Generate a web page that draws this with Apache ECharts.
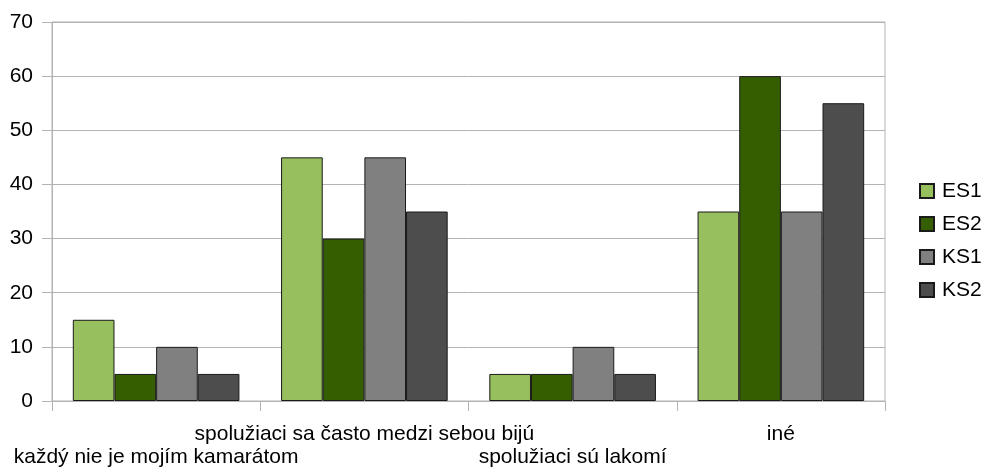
<!DOCTYPE html>
<html>
<head>
<meta charset="utf-8">
<script src="https://cdn.jsdelivr.net/npm/echarts@6/dist/echarts.min.js"></script>
<style>
  html, body { margin: 0; padding: 0; background: #fff; }
  #chart { width: 983px; height: 472px; }
</style>
</head>
<body>
<div id="chart"></div>
<script>
// Answer categories and responses per group
const categories = [
  'každý nie je mojím kamarátom',
  'spolužiaci sa často medzi sebou bijú',
  'spolužiaci sú lakomí',
  'iné'
];
const es1 = [15, 45, 5, 35];
const es2 = [5, 30, 5, 60];
const ks1 = [10, 45, 10, 35];
const ks2 = [5, 35, 5, 55];
const yTicks = [0, 10, 20, 30, 40, 50, 60, 70];

const FONT = '"Liberation Sans", Arial, sans-serif';
const GRID = '#b3b3b3';

function barSeries(name, data, color) {
  return {
    name: name,
    type: 'bar',
    data: data,
    barGap: '0%',
    barCategoryGap: '20%',
    itemStyle: { color: color, borderColor: '#1a1a1a', borderWidth: 1 }
  };
}

const chart = echarts.init(document.getElementById('chart'));
chart.setOption({
  animation: false,
  backgroundColor: '#fff',
  grid: {
    left: 52, right: 98, top: 22, bottom: 71,
    show: true, borderColor: GRID, borderWidth: 1
  },
  legend: {
    orient: 'vertical',
    left: 919,
    top: 178,
    padding: 0,
    itemWidth: 14,
    itemHeight: 14,
    itemGap: 7,
    icon: 'rect',
    textStyle: {
      fontFamily: FONT, fontSize: 21, color: '#000',
      lineHeight: 20, padding: [6, 0, 0, 3]
    },
    data: ['ES1', 'ES2', 'KS1', 'KS2']
  },
  xAxis: {
    type: 'category',
    data: categories,
    boundaryGap: true,
    axisLine: { lineStyle: { color: GRID } },
    axisTick: { show: true, length: 10, lineStyle: { color: GRID }, alignWithLabel: false },
    axisLabel: {
      interval: 0,
      hideOverlap: false,
      fontFamily: FONT,
      fontSize: 21,
      color: '#000',
      lineHeight: 23,
      margin: 22,
      formatter: function (value, index) {
        return index % 2 === 0 ? '\n' + value : value;
      }
    }
  },
  yAxis: {
    type: 'value',
    min: yTicks[0],
    max: yTicks[yTicks.length - 1],
    interval: 10,
    axisLine: { show: true, lineStyle: { color: GRID } },
    axisTick: { show: true, length: 10, lineStyle: { color: GRID } },
    splitLine: { show: true, lineStyle: { color: GRID } },
    axisLabel: {
      fontFamily: FONT, fontSize: 21, color: '#000', margin: 19
    }
  },
  series: [
    barSeries('ES1', es1, '#97bf5d'),
    barSeries('ES2', es2, '#355e00'),
    barSeries('KS1', ks1, '#808080'),
    barSeries('KS2', ks2, '#4d4d4d')
  ]
});
</script>
</body>
</html>
